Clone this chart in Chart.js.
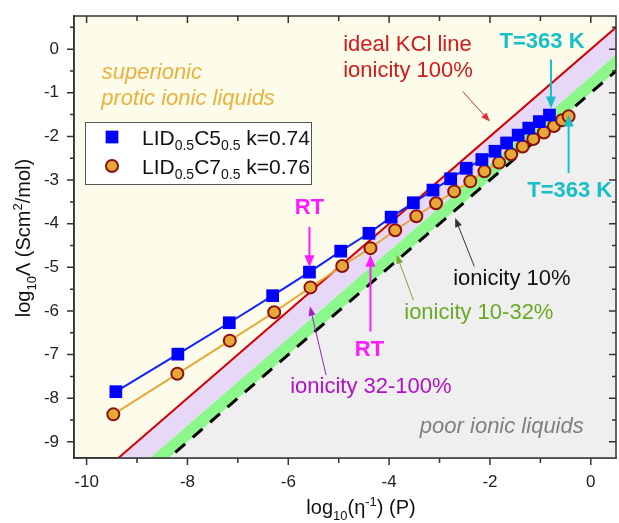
<!DOCTYPE html>
<html>
<head>
<meta charset="utf-8">
<script src="https://cdn.jsdelivr.net/npm/chart.js@4.4.1/dist/chart.umd.min.js"></script>
<style>
  html, body { margin: 0; padding: 0; background: #fff; }
  canvas { display: block; }
</style>
</head>
<body>
<canvas id="walden" width="619" height="523"></canvas>
<script>
// LID0.5C5 0.5 : log10(1/eta) and log10(Lambda)
const c5X = [-9.42, -8.19, -7.17, -6.31, -5.58, -4.96, -4.40, -3.96, -3.52, -3.13, -2.78, -2.47, -2.16, -1.90, -1.67, -1.44, -1.23, -1.02, -0.82];
const c5Y = [-7.85, -6.99, -6.27, -5.65, -5.11, -4.63, -4.22, -3.85, -3.52, -3.23, -2.97, -2.73, -2.53, -2.34, -2.15, -1.97, -1.81, -1.66, -1.51];
// LID0.5C7 0.5
const c7X = [-9.47, -8.20, -7.16, -6.28, -5.56, -4.93, -4.37, -3.88, -3.46, -3.07, -2.71, -2.39, -2.11, -1.82, -1.58, -1.35, -1.14, -0.93, -0.73, -0.57, -0.44];
const c7Y = [-8.37, -7.44, -6.68, -6.03, -5.46, -4.97, -4.56, -4.15, -3.83, -3.53, -3.26, -3.03, -2.80, -2.60, -2.41, -2.23, -2.06, -1.91, -1.76, -1.63, -1.54];

// Walden reference lines, end points outside the axes (clipped)
const refX = [-11, 1];
const kclY = [-11, 1];          // ideal KCl, ionicity 100%
const ion32Y = [-11.62, 0.38];  // edge of the 32-100% band
const ion10Y = [-12, 0];        // ionicity 10%

const xTickValues = [-10, -9, -8, -7, -6, -5, -4, -3, -2, -1, 0];
const xTickLabels = [-10, -8, -6, -4, -2, 0];
const yTickValues = [-9, -8.5, -8, -7.5, -7, -6.5, -6, -5.5, -5, -4.5, -4, -3.5, -3, -2.5, -2, -1.5, -1, -0.5, 0, 0.5];
const yTickLabels = [-9, -8, -7, -6, -5, -4, -3, -2, -1, 0];

const seriesLabels = [
  [{t: 'LID'}, {t: '0.5', sub: true}, {t: 'C5'}, {t: '0.5', sub: true}, {t: ' k=0.74'}],
  [{t: 'LID'}, {t: '0.5', sub: true}, {t: 'C7'}, {t: '0.5', sub: true}, {t: ' k=0.76'}],
];

const FONT = '"Liberation Sans", Arial, sans-serif';
const CREAM = '#fdfbe9';

function pts(xs, ys) {
  return xs.map((x, i) => ({x: x, y: ys[i]}));
}

// annotations, positions in data units
const notes = [
  {text: 'superionic', x: -9.70, y: -0.54, color: '#e9b23c', style: 'italic'},
  {text: 'protic ionic liquids', x: -9.71, y: -1.14, color: '#e9b23c', style: 'italic'},
  {text: 'ideal KCl line', x: -4.91, y: 0.10, color: '#d21a1a'},
  {text: 'ionicity 100%', x: -4.91, y: -0.50, color: '#d21a1a'},
  {text: 'T=363 K', x: -1.81, y: 0.17, color: '#17bfc7', weight: 'bold'},
  {text: 'T=363 K', x: -1.26, y: -3.26, color: '#17bfc7', weight: 'bold'},
  {text: 'RT', x: -5.87, y: -3.64, color: '#ff1aff', weight: 'bold'},
  {text: 'RT', x: -4.68, y: -6.89, color: '#ff1aff', weight: 'bold'},
  {text: 'ionicity 10%', x: -2.73, y: -5.27, color: '#111'},
  {text: 'ionicity 10-32%', x: -3.70, y: -6.05, color: '#6aaa22'},
  {text: 'ionicity 32-100%', x: -2.76, y: -7.73, color: '#b010c8', align: 'right'},
  {text: 'poor ionic liquids', x: -3.39, y: -8.65, color: '#808080', style: 'italic'},
];

const arrows = [
  {x1: -2.54, y1: -0.97, x2: -2.00, y2: -1.66, color: '#e03030', w: 1, head: 9, hw: 3.5},
  {x1: -0.79, y1: -0.24, x2: -0.79, y2: -1.36, color: '#17bfc7', w: 2, head: 12, hw: 5},
  {x1: -0.44, y1: -2.84, x2: -0.44, y2: -1.50, color: '#17bfc7', w: 2, head: 12, hw: 5},
  {x1: -5.58, y1: -4.07, x2: -5.58, y2: -5.00, color: '#ff1aff', w: 2, head: 12, hw: 5},
  {x1: -4.37, y1: -6.47, x2: -4.37, y2: -4.71, color: '#ff1aff', w: 2, head: 12, hw: 5},
  {x1: -2.31, y1: -4.98, x2: -2.69, y2: -3.87, color: '#333', w: 1, head: 9, hw: 3.5},
  {x1: -3.52, y1: -5.75, x2: -3.85, y2: -4.71, color: '#7aa832', w: 1, head: 9, hw: 3.5},
  {x1: -5.25, y1: -7.47, x2: -5.57, y2: -5.90, color: '#a020c0', w: 1, head: 9, hw: 3.5},
];

function drawRich(ctx, parts, x, y, size, color) {
  let cx = x;
  ctx.fillStyle = color;
  ctx.textBaseline = 'alphabetic';
  ctx.textAlign = 'left';
  for (const p of parts) {
    const s = p.sub || p.sup ? Math.round(size * 0.65) : size;
    ctx.font = s + 'px ' + FONT;
    let dy = 0;
    if (p.sub) dy = size * 0.28;
    if (p.sup) dy = -size * 0.42;
    ctx.fillText(p.t, cx, y + dy);
    cx += ctx.measureText(p.t).width;
  }
  return cx - x;
}

function richWidth(ctx, parts, size) {
  let w = 0;
  for (const p of parts) {
    const s = p.sub || p.sup ? Math.round(size * 0.65) : size;
    ctx.font = s + 'px ' + FONT;
    w += ctx.measureText(p.t).width;
  }
  return w;
}

function drawArrow(ctx, a, xs, ys) {
  const x1 = xs.getPixelForValue(a.x1), y1 = ys.getPixelForValue(a.y1);
  const x2 = xs.getPixelForValue(a.x2), y2 = ys.getPixelForValue(a.y2);
  const ang = Math.atan2(y2 - y1, x2 - x1);
  ctx.strokeStyle = a.color;
  ctx.fillStyle = a.color;
  ctx.lineWidth = a.w;
  ctx.beginPath();
  ctx.moveTo(x1, y1);
  ctx.lineTo(x2 - Math.cos(ang) * a.head * 0.8, y2 - Math.sin(ang) * a.head * 0.8);
  ctx.stroke();
  ctx.beginPath();
  ctx.moveTo(x2, y2);
  ctx.lineTo(x2 - Math.cos(ang) * a.head - Math.sin(ang) * a.hw, y2 - Math.sin(ang) * a.head + Math.cos(ang) * a.hw);
  ctx.lineTo(x2 - Math.cos(ang) * a.head + Math.sin(ang) * a.hw, y2 - Math.sin(ang) * a.head - Math.cos(ang) * a.hw);
  ctx.closePath();
  ctx.fill();
}

const backdrop = {
  id: 'backdrop',
  beforeDraw(chart) {
    const {ctx, chartArea: ca} = chart;
    ctx.save();
    ctx.fillStyle = '#fff';
    ctx.fillRect(0, 0, chart.width, chart.height);
    ctx.fillStyle = CREAM;
    ctx.fillRect(ca.left, ca.top, ca.right - ca.left, ca.bottom - ca.top);
    ctx.restore();
  },
};

const decorations = {
  id: 'decorations',
  afterDraw(chart) {
    const {ctx, chartArea: ca} = chart;
    const xs = chart.scales.x, ys = chart.scales.y;
    ctx.save();

    // annotations
    for (const n of notes) {
      ctx.font = (n.style || 'normal') + ' ' + (n.weight || 'normal') + ' 22px ' + FONT;
      ctx.fillStyle = n.color;
      ctx.textAlign = n.align || 'left';
      ctx.textBaseline = 'middle';
      ctx.fillText(n.text, xs.getPixelForValue(n.x), ys.getPixelForValue(n.y));
    }
    for (const a of arrows) drawArrow(ctx, a, xs, ys);

    // frame
    ctx.strokeStyle = '#333';
    ctx.lineWidth = 1.5;
    ctx.strokeRect(ca.left, ca.top, ca.right - ca.left, ca.bottom - ca.top);

    // ticks: outward left / bottom, inward top / right
    ctx.lineWidth = 1.5;
    ctx.beginPath();
    for (const v of xTickValues) {
      const px = xs.getPixelForValue(v);
      const len = xTickLabels.includes(v) ? 7 : 5;
      ctx.moveTo(px, ca.bottom); ctx.lineTo(px, ca.bottom + len);
      ctx.moveTo(px, ca.top); ctx.lineTo(px, ca.top + len);
    }
    for (const v of yTickValues) {
      const py = ys.getPixelForValue(v);
      const len = yTickLabels.includes(v) ? 7 : 4;
      ctx.moveTo(ca.left, py); ctx.lineTo(ca.left - len, py);
      ctx.moveTo(ca.right, py); ctx.lineTo(ca.right - len, py);
    }
    ctx.stroke();

    // legend
    const lx = ca.left + 11, ly = ca.top + 106, lw = 226, lh = 62;
    ctx.fillStyle = '#fff';
    ctx.fillRect(lx, ly, lw, lh);
    ctx.strokeStyle = '#555';
    ctx.lineWidth = 1;
    ctx.strokeRect(lx + 0.5, ly + 0.5, lw, lh);
    chart.data.datasets.slice(0, 2).forEach((ds, i) => {
      const cy = ly + 15 + i * 29;
      const mx = lx + 27;
      ctx.fillStyle = ds.pointBackgroundColor;
      ctx.strokeStyle = ds.pointBorderColor;
      ctx.lineWidth = ds.pointBorderWidth;
      ctx.beginPath();
      if (ds.pointStyle === 'rect') {
        const s = Math.SQRT1_2 * ds.pointRadius;
        ctx.rect(mx - s, cy - s, 2 * s, 2 * s);
      } else {
        ctx.arc(mx, cy, ds.pointRadius, 0, Math.PI * 2);
      }
      ctx.fill();
      if (ds.pointBorderWidth) ctx.stroke();
      drawRich(ctx, seriesLabels[i], lx + 57, cy + 7.5, 21, '#111');
    });

    // axis titles
    const xt = [{t: 'log'}, {t: '10', sub: true}, {t: '(\u03b7'}, {t: '-1', sup: true}, {t: ') (P)'}];
    const xw = richWidth(ctx, xt, 20);
    drawRich(ctx, xt, 361 - xw / 2, 514, 20, '#111');

    const yt = [{t: 'log'}, {t: '10', sub: true}, {t: '\u039b (Scm'}, {t: '2', sup: true}, {t: '/mol)'}];
    const yw = richWidth(ctx, yt, 20);
    ctx.translate(30, 238);
    ctx.rotate(-Math.PI / 2);
    drawRich(ctx, yt, -yw / 2, 0, 20, '#111');

    ctx.restore();
  },
};

const axisTicks = {color: '#222', font: {family: FONT, size: 17}, autoSkip: false, maxRotation: 0};

new Chart(document.getElementById('walden'), {
  type: 'line',
  data: {
    datasets: [
      {
        label: 'LID0.5C50.5 k=0.74',
        data: pts(c5X, c5Y),
        borderColor: '#1020ff',
        borderWidth: 2,
        pointStyle: 'rect',
        pointRadius: 9,
        pointBackgroundColor: '#0000ff',
        pointBorderColor: '#0000ff',
        pointBorderWidth: 0,
        fill: false,
      },
      {
        label: 'LID0.5C70.5 k=0.76',
        data: pts(c7X, c7Y),
        borderColor: '#e8a838',
        borderWidth: 2,
        pointStyle: 'circle',
        pointRadius: 6,
        pointBackgroundColor: '#e8a838',
        pointBorderColor: '#8b1010',
        pointBorderWidth: 2,
        fill: false,
      },
      {
        label: 'ideal KCl line',
        data: pts(refX, kclY),
        borderColor: '#d40000',
        borderWidth: 2,
        pointRadius: 0,
        fill: '+1',
        backgroundColor: '#e8d8f8',
      },
      {
        label: 'ionicity 32%',
        data: pts(refX, ion32Y),
        borderWidth: 0,
        borderColor: 'rgba(0,0,0,0)',
        pointRadius: 0,
        fill: '+1',
        backgroundColor: '#8cf88c',
      },
      {
        label: 'ionicity 10%',
        data: pts(refX, ion10Y),
        borderColor: '#000',
        borderWidth: 3,
        borderDash: [13, 10],
        pointRadius: 0,
        fill: 'start',
        backgroundColor: '#efefef',
      },
    ],
  },
  options: {
    responsive: false,
    animation: false,
    events: [],
    layout: {autoPadding: false, padding: {top: 16, right: 3, left: 0, bottom: 0}},
    plugins: {
      legend: {display: false},
      tooltip: {enabled: false},
      filler: {drawTime: 'beforeDatasetsDraw'},
    },
    scales: {
      x: {
        type: 'linear',
        min: -10.25,
        max: 0.5,
        afterBuildTicks: (s) => { s.ticks = xTickValues.map((v) => ({value: v})); },
        afterFit: (s) => { s.height = 65; s.paddingLeft = 0; s.paddingRight = 0; },
        ticks: Object.assign({}, axisTicks, {
          padding: 14,
          callback: (v) => (xTickLabels.includes(v) ? String(v) : ''),
        }),
        grid: {display: true, drawOnChartArea: false, drawTicks: false},
        border: {display: true, color: '#333', width: 1.5},
      },
      y: {
        type: 'linear',
        min: -9.37,
        max: 0.76,
        afterBuildTicks: (s) => { s.ticks = yTickValues.map((v) => ({value: v})); },
        afterFit: (s) => { s.width = 74; s.paddingTop = 0; s.paddingBottom = 0; },
        ticks: Object.assign({}, axisTicks, {
          padding: 15,
          callback: (v) => (yTickLabels.includes(v) ? String(v) : ''),
        }),
        grid: {display: true, drawOnChartArea: false, drawTicks: false},
        border: {display: true, color: '#333', width: 1.5},
      },
    },
  },
  plugins: [backdrop, decorations],
});
</script>
</body>
</html>
